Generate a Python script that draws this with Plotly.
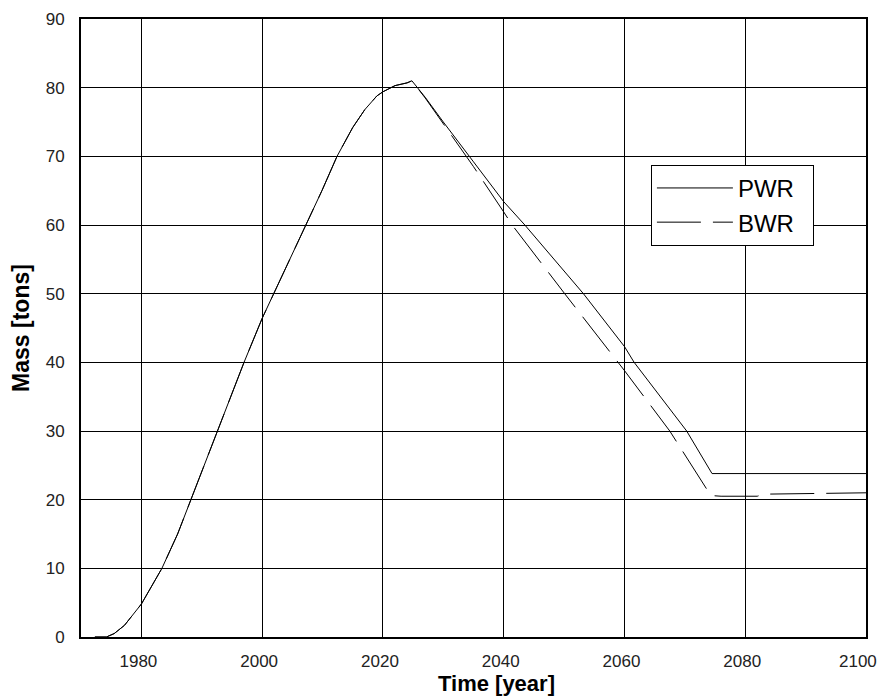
import plotly.graph_objects as go

# Shared build-up phase
rise_years = [1972.3, 1974.2, 1975.5, 1977.2, 1980.0, 1983.4, 1986.0, 1988.2, 1990.4, 1992.6,
              1995.8, 1997.0, 2000.0, 2001.9, 2004.6, 2007.3, 2009.9, 2012.4, 2013.5, 2015.0,
              2017.0, 2019.0, 2020.0, 2022.0, 2024.0, 2024.8]
rise_mass = [0.0, 0.0, 0.5, 1.7, 4.8, 10.0, 15.0, 20.0, 25.0, 30.0,
             37.5, 40.0, 46.4, 50.0, 55.0, 60.0, 65.0, 70.0, 71.8, 74.2,
             76.8, 78.8, 79.4, 80.3, 80.7, 81.0]

# Decline phases
pwr_years = [2027.0, 2030.0, 2035.0, 2040.0, 2043.5, 2053.2, 2060.0, 2061.6, 2070.3, 2074.5, 2100.0]
pwr_mass = [78.6, 75.0, 69.2, 63.4, 60.0, 50.0, 42.3, 40.0, 30.0, 23.8, 23.8]

bwr_years = [2027.0, 2030.0, 2035.0, 2040.0, 2041.4, 2050.1, 2058.9, 2060.0, 2067.5, 2074.3,
             2076.0, 2082.0, 2083.0, 2100.0]
bwr_mass = [78.5, 74.8, 68.5, 61.9, 60.0, 50.0, 40.0, 38.8, 30.0, 20.6,
            20.5, 20.5, 20.8, 21.0]

x_ticks = [1980, 2000, 2020, 2040, 2060, 2080, 2100]
x_labels = ["1980", "2000", "2020", "2040", "2060", "2080", ""]
last_x_tick = 2100
last_x_label = "2100"
y_ticks = [0, 10, 20, 30, 40, 50, 60, 70, 80, 90]

FONT = "Arial, Liberation Sans, sans-serif"

fig = go.Figure()
fig.add_trace(go.Scatter(x=rise_years + pwr_years, y=rise_mass + pwr_mass, mode="lines",
                         name="PWR\u00a0\u00a0", line=dict(color="black", width=1)))
fig.add_trace(go.Scatter(x=rise_years + bwr_years, y=rise_mass + bwr_mass, mode="lines",
                         name="BWR\u00a0\u00a0", line=dict(color="black", width=1, dash="44px,12px")))

fig.update_layout(
    width=880, height=700,
    margin=dict(l=81, r=14, t=19, b=63),
    paper_bgcolor="white", plot_bgcolor="white",
    font=dict(family=FONT, color="black", size=17),
    showlegend=True,
    legend=dict(x=0.726, y=0.764, xanchor="left", yanchor="top",
                bgcolor="white", bordercolor="black", borderwidth=1,
                font=dict(size=24, family=FONT, color="black"),
                itemwidth=76, tracegroupgap=0),
    annotations=[
        dict(text="<b>Time [year]</b>", xref="paper", yref="paper",
             x=0.529, y=0, yshift=-46, xanchor="center", yanchor="middle",
             showarrow=False, font=dict(size=22, color="black", family=FONT)),
        dict(text=last_x_label, xref="x", yref="paper", x=last_x_tick, y=0,
             xshift=-8, yshift=-24, xanchor="center", yanchor="middle",
             showarrow=False, font=dict(size=17, color="#222", family=FONT)),
    ],
)
fig.update_xaxes(range=[1970, 2100], tickvals=x_ticks, ticktext=x_labels,
                 showgrid=True, gridcolor="black", gridwidth=1,
                 showline=True, linecolor="black", linewidth=2, mirror=True, zeroline=False,
                 ticks="", ticklabelstandoff=8, ticklabelshift=-3,
                 automargin=False, tickfont=dict(size=17, color="#222"))
fig.update_yaxes(range=[0, 90], tickvals=y_ticks, showgrid=True, gridcolor="black", gridwidth=1,
                 showline=True, linecolor="black", linewidth=2, mirror=True, zeroline=False,
                 ticks="", ticklabelstandoff=11, automargin=False,
                 tickfont=dict(size=17, color="#222"),
                 title=dict(text="<b>Mass [tons]</b>", font=dict(size=23, color="black"), standoff=10))

fig.write_html("out.html")
